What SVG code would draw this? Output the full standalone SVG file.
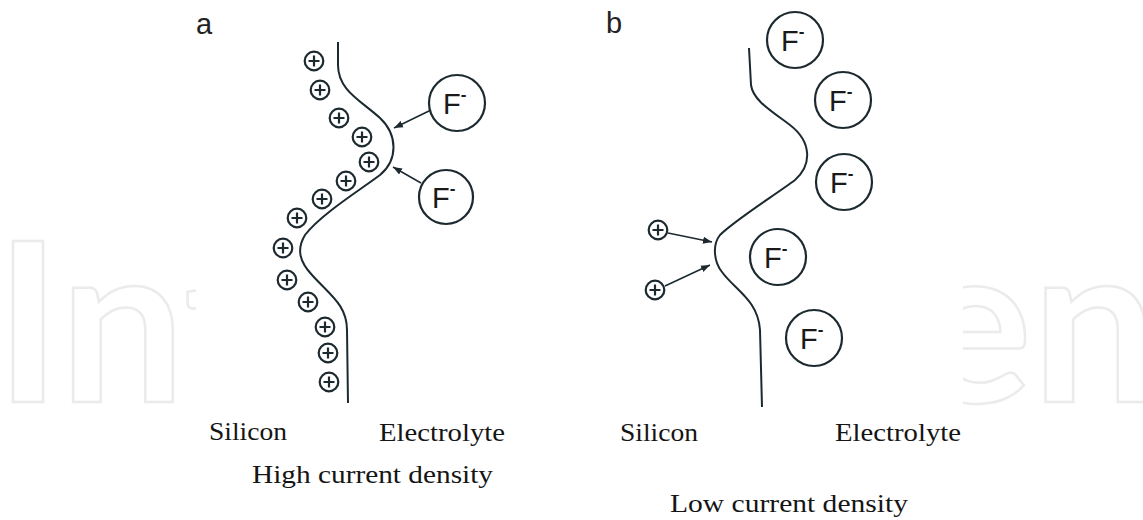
<svg xmlns="http://www.w3.org/2000/svg" xmlns:xlink="http://www.w3.org/1999/xlink" width="1143" height="520" viewBox="0 0 1143 520">
<style>
.wm{font-family:Lato,"Open Sans",sans-serif;font-weight:bold;font-size:223px;fill:none;stroke:#ebebeb;stroke-width:2.5}
.curve{fill:none;stroke:#1c2a30;stroke-width:2}
.ion circle{fill:none;stroke:#1c2a30;stroke-width:2.2}
.ion text{font-family:"Liberation Sans",Arial,sans-serif;font-size:29px;fill:#1a1a1a}
.ion .sup{font-size:17px;font-weight:bold}
.pc{fill:none;stroke:#1c2a30;stroke-width:2.2}
.arrow{fill:none;stroke:#1c2a30;stroke-width:1.6;marker-end:url(#ah)}
.lbl{font-family:"Liberation Serif","Times New Roman",serif;font-size:26px;fill:#151515}
.pl{font-family:"Liberation Sans",Arial,sans-serif;font-size:29px;fill:#222}
</style>
<defs>
<marker id="ah" markerUnits="userSpaceOnUse" markerWidth="10" markerHeight="8" refX="9" refY="4" orient="auto">
<path d="M0,0.5 L9,4 L0,7.5 Z" fill="#1c2a30"/>
</marker>
<g id="plus" class="pc"><circle cx="0" cy="0" r="9.3"/><path d="M-5.5,0H5.5M0,-5.5V5.5"/></g>
</defs>
<rect width="1143" height="520" fill="#fff"/>
<g id="watermark">
<svg x="0" y="200" width="196" height="215" viewBox="0 200 196 215" overflow="hidden">
<text class="wm" x="-5" y="402">Int</text>
</svg>
<svg x="963" y="200" width="180" height="215" viewBox="963 200 180 215" overflow="hidden">
<text class="wm" x="913" y="402">en</text>
</svg>
</g>

<g id="connectors">
<path class="curve" d="M338,42 L338,65 C338,90 360,100 380,118 C398,135 398,160 380,175 C360,190 320,215 305,235 C296,250 300,262 312,275 C330,295 347,305 347,330 L348,403"/>
<path class="curve" d="M749,48 L751,85 C753,100 770,110 790,125 C812,142 812,165 795,180 C775,195 735,220 720,235 C712,245 714,262 722,272 C735,290 758,300 760,330 L762,407"/>
<path class="arrow" d="M431,110 L394,128"/>
<path class="arrow" d="M421,183 L393,167"/>
<path class="arrow" d="M668,233 L712,242"/>
<path class="arrow" d="M665,286 L710,265"/>
</g>

<g id="label-a"><text class="pl" x="196" y="34">a</text></g>
<g id="label-b"><text class="pl" x="606" y="33">b</text></g>

<g id="pa1"><use xlink:href="#plus" x="314" y="61"/></g>
<g id="pa2"><use xlink:href="#plus" x="320" y="90"/></g>
<g id="pa3"><use xlink:href="#plus" x="339" y="118"/></g>
<g id="pa4"><use xlink:href="#plus" x="362" y="137"/></g>
<g id="pa5"><use xlink:href="#plus" x="369" y="162"/></g>
<g id="pa6"><use xlink:href="#plus" x="346" y="181"/></g>
<g id="pa7"><use xlink:href="#plus" x="322" y="199"/></g>
<g id="pa8"><use xlink:href="#plus" x="297" y="218"/></g>
<g id="pa9"><use xlink:href="#plus" x="283" y="248"/></g>
<g id="pa10"><use xlink:href="#plus" x="287" y="280"/></g>
<g id="pa11"><use xlink:href="#plus" x="308" y="302"/></g>
<g id="pa12"><use xlink:href="#plus" x="325" y="327"/></g>
<g id="pa13"><use xlink:href="#plus" x="328" y="353"/></g>
<g id="pa14"><use xlink:href="#plus" x="329" y="382"/></g>

<g id="pb1"><use xlink:href="#plus" x="658" y="230"/></g>
<g id="pb2"><use xlink:href="#plus" x="655" y="290"/></g>

<g id="fa1" class="ion"><circle cx="457" cy="103" r="28"/><text x="443" y="114">F<tspan class="sup" dy="-14">-</tspan></text></g>
<g id="fa2" class="ion"><circle cx="446" cy="197" r="27"/><text x="432" y="208">F<tspan class="sup" dy="-14">-</tspan></text></g>

<g id="fb1" class="ion"><circle cx="795" cy="40" r="28"/><text x="781" y="51">F<tspan class="sup" dy="-14">-</tspan></text></g>
<g id="fb2" class="ion"><circle cx="843" cy="100" r="28"/><text x="829" y="111">F<tspan class="sup" dy="-14">-</tspan></text></g>
<g id="fb3" class="ion"><circle cx="844" cy="182" r="28"/><text x="830" y="193">F<tspan class="sup" dy="-14">-</tspan></text></g>
<g id="fb4" class="ion"><circle cx="778" cy="257" r="28"/><text x="764" y="268">F<tspan class="sup" dy="-14">-</tspan></text></g>
<g id="fb5" class="ion"><circle cx="814" cy="338" r="28"/><text x="800" y="349">F<tspan class="sup" dy="-14">-</tspan></text></g>

<g id="labels">
<text class="lbl" x="209" y="440" textLength="78" lengthAdjust="spacingAndGlyphs">Silicon</text>
<text class="lbl" x="379" y="441" textLength="126" lengthAdjust="spacingAndGlyphs">Electrolyte</text>
<text class="lbl" x="252" y="483" textLength="241" lengthAdjust="spacingAndGlyphs">High current density</text>
<text class="lbl" x="620" y="441" textLength="78" lengthAdjust="spacingAndGlyphs">Silicon</text>
<text class="lbl" x="835" y="441" textLength="126" lengthAdjust="spacingAndGlyphs">Electrolyte</text>
<text class="lbl" x="670" y="512" textLength="238" lengthAdjust="spacingAndGlyphs">Low current density</text>
</g>
</svg>
